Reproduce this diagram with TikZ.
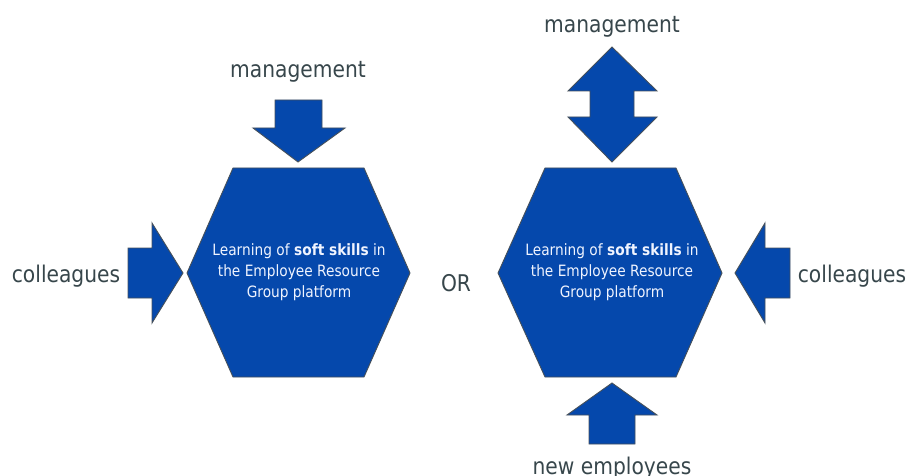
\documentclass[tikz,border=0pt]{standalone}
\usepackage{fontspec}
\setmainfont{DejaVu Sans}[FakeStretch=0.88]
\definecolor{blk}{RGB}{5,72,172}
\definecolor{edgec}{RGB}{70,80,90}
\definecolor{lbl}{RGB}{55,70,75}
\definecolor{htxt}{RGB}{240,244,255}
\begin{document}
\begin{tikzpicture}[x=1pt,y=-1pt,
  shp/.style={fill=blk,draw=edgec,line width=0.9pt,line join=miter},
  lab/.style={text=lbl,font=\fontsize{23}{27}\selectfont,inner sep=0pt,anchor=base},
  hextext/.style={text=htxt,align=center,font=\fontsize{15.6}{21}\selectfont,inner sep=0pt}]
\useasboundingbox (0,0) rectangle (913,476);
% hexagons
\draw[shp] (233,168) -- (364,168) -- (410,273) -- (364,377) -- (233,377) -- (187,273) -- cycle;
\draw[shp] (545,168) -- (676,168) -- (722,273) -- (676,377) -- (545,377) -- (498,273) -- cycle;
\node[hextext] (hexL) at (299,272) {Learning of \textbf{soft skills} in\\the Employee Resource\\Group platform};
\node[hextext] (hexR) at (612,272) {Learning of \textbf{soft skills} in\\the Employee Resource\\Group platform};
% left: management down arrow
\draw[shp] (275,100) -- (322,100) -- (322,128) -- (345,128) -- (298,162) -- (253,128) -- (275,128) -- cycle;
% left: colleagues right arrow
\draw[shp] (128,248) -- (152,248) -- (152,223) -- (183,273) -- (152,323) -- (152,298) -- (128,298) -- cycle;
% right: management double arrow
\draw[shp] (612,47) -- (657,91) -- (634,91) -- (634,117) -- (657,117) -- (612,162) -- (568,117) -- (590,117) -- (590,91) -- (568,91) -- cycle;
% right: colleagues left arrow
\draw[shp] (790,248) -- (765,248) -- (765,223) -- (735,273) -- (765,323) -- (765,298) -- (790,298) -- cycle;
% right: new employees up arrow
\draw[shp] (589,444) -- (589,415) -- (567,415) -- (612,383) -- (657,415) -- (635,415) -- (635,444) -- cycle;
% labels
\node[lab] (mgmtL) at (298,78) {management};
\node[lab] (collL) at (66,282) {colleagues};
\node[lab] (orl) at (456,291) {OR};
\node[lab] (mgmtR) at (612,33) {management};
\node[lab] (collR) at (852,282) {colleagues};
\node[lab] (newE) at (612,474) {new employees};
\end{tikzpicture}
\end{document}
